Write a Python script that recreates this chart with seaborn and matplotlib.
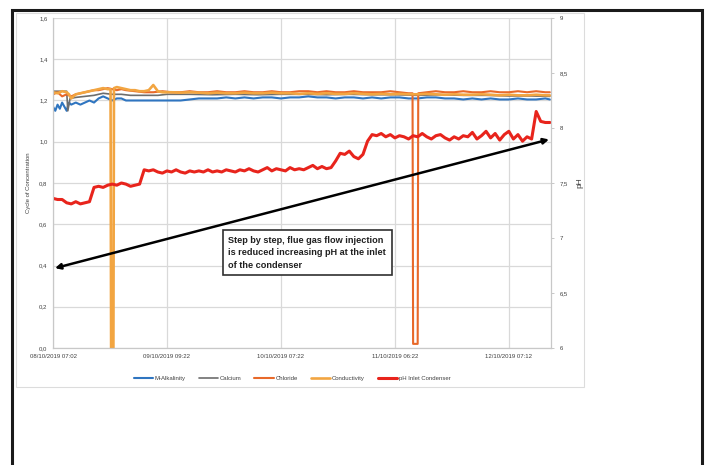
import matplotlib
matplotlib.use('Agg')
import matplotlib.pyplot as plt
import seaborn as sns
import pandas as pd
from matplotlib import font_manager
from matplotlib.patches import Rectangle

# ---------------- data ----------------
x_ticks = [0, 100, 200, 300, 400]
x_labels = ["08/10/2019 07:02", "09/10/2019 09:22", "10/10/2019 07:22",
            "11/10/2019 06:22", "12/10/2019 07:12"]
left_ticks = [0.0, 0.2, 0.4, 0.6, 0.8, 1.0, 1.2, 1.4, 1.6]
left_labels = ["0,0", "0,2", "0,4", "0,6", "0,8", "1,0", "1,2", "1,4", "1,6"]
right_ticks = [6, 6.5, 7, 7.5, 8, 8.5, 9]
right_labels = ["6", "6,5", "7", "7,5", "8", "8,5", "9"]

t_alk = [0, 2, 4, 6, 8, 10, 12, 14, 16, 20, 24, 28, 32, 36, 40, 44, 48, 52, 56, 60,
         64, 68, 72, 80, 88, 96, 104, 112, 120, 128, 136, 144, 152, 160, 168, 176,
         184, 192, 200, 208, 216, 224, 232, 240, 248, 256, 264, 272, 280, 288, 296,
         304, 312, 320, 328, 336, 344, 352, 360, 368, 376, 384, 392, 400, 408, 416,
         424, 432, 436]
alk = [1.17, 1.15, 1.18, 1.16, 1.19, 1.17, 1.15, 1.19, 1.18, 1.19, 1.18, 1.19, 1.20,
       1.19, 1.21, 1.22, 1.21, 1.20, 1.21, 1.21, 1.20, 1.20, 1.20, 1.20, 1.20, 1.20,
       1.20, 1.20, 1.205, 1.21, 1.21, 1.21, 1.215, 1.21, 1.215, 1.21, 1.215, 1.215,
       1.21, 1.215, 1.215, 1.22, 1.215, 1.215, 1.21, 1.215, 1.215, 1.21, 1.215, 1.21,
       1.215, 1.215, 1.21, 1.21, 1.215, 1.215, 1.21, 1.21, 1.205, 1.21, 1.205, 1.21,
       1.205, 1.205, 1.21, 1.205, 1.205, 1.21, 1.205]

t_cal = [0, 12, 13, 15, 20, 28, 36, 44, 52, 60, 68, 76, 84, 92, 100, 120, 140, 160,
         180, 200, 220, 240, 260, 280, 300, 320, 340, 360, 380, 400, 420, 436]
cal = [1.245, 1.245, 1.15, 1.21, 1.215, 1.22, 1.225, 1.235, 1.23, 1.23, 1.225, 1.225,
       1.225, 1.225, 1.23, 1.23, 1.228, 1.23, 1.228, 1.23, 1.23, 1.228, 1.23, 1.228,
       1.228, 1.225, 1.228, 1.225, 1.225, 1.222, 1.222, 1.22]

t_chl = [0, 4, 8, 12, 16, 20, 24, 28, 32, 36, 40, 44, 48, 52, 56, 60, 64, 72, 80, 88,
         96, 104, 112, 120, 128, 136, 144, 152, 160, 168, 176, 184, 192, 200, 208, 216,
         224, 232, 240, 248, 256, 264, 272, 280, 288, 296, 304, 312, 315.5, 316, 320,
         320.5, 328, 336, 344, 352, 360, 368, 376, 384, 392, 400, 408, 416, 424, 432,
         436]
chl = [1.23, 1.24, 1.22, 1.23, 1.22, 1.23, 1.235, 1.24, 1.245, 1.25, 1.25, 1.255, 1.26,
       1.255, 1.25, 1.255, 1.25, 1.245, 1.24, 1.24, 1.245, 1.24, 1.24, 1.245, 1.24, 1.24,
       1.245, 1.24, 1.24, 1.245, 1.24, 1.24, 1.245, 1.24, 1.24, 1.245, 1.245, 1.24,
       1.245, 1.24, 1.24, 1.245, 1.24, 1.24, 1.24, 1.245, 1.24, 1.235, 1.235, 0.02,
       0.02, 1.235, 1.24, 1.245, 1.24, 1.24, 1.245, 1.24, 1.24, 1.245, 1.24, 1.24,
       1.245, 1.24, 1.245, 1.24, 1.24]

t_cond = [0, 4, 8, 12, 14, 16, 20, 24, 28, 32, 36, 40, 44, 48, 50.5, 51, 53, 53.5, 56,
          60, 64, 68, 72, 76, 80, 84, 88, 92, 96, 104, 112, 120, 128, 136, 144, 152,
          160, 168, 176, 184, 192, 200, 208, 216, 224, 232, 240, 248, 256, 264, 272,
          280, 288, 296, 304, 312, 320, 328, 336, 344, 352, 360, 368, 376, 384, 392,
          400, 408, 416, 424, 432, 436]
cond = [1.24, 1.235, 1.245, 1.24, 1.23, 1.21, 1.23, 1.235, 1.24, 1.245, 1.25, 1.255,
        1.26, 1.255, 1.255, 0.0, 0.0, 1.26, 1.265, 1.26, 1.255, 1.25, 1.25, 1.245,
        1.245, 1.25, 1.275, 1.245, 1.24, 1.24, 1.238, 1.24, 1.238, 1.235, 1.238, 1.235,
        1.235, 1.238, 1.235, 1.235, 1.238, 1.235, 1.235, 1.232, 1.235, 1.232, 1.235,
        1.232, 1.232, 1.235, 1.232, 1.23, 1.232, 1.23, 1.232, 1.23, 1.23, 1.232, 1.23,
        1.228, 1.23, 1.228, 1.228, 1.23, 1.228, 1.225, 1.228, 1.225, 1.225, 1.228,
        1.225, 1.225]

t_ph = list(range(0, 437, 4))
ph = [7.36, 7.35, 7.35, 7.32, 7.31, 7.33, 7.31, 7.32, 7.33,
      7.46, 7.47, 7.46, 7.48, 7.49, 7.48, 7.50, 7.49, 7.47, 7.48, 7.49,
      7.62, 7.61, 7.62, 7.60, 7.59, 7.61, 7.60, 7.62, 7.60, 7.59, 7.61, 7.60,
      7.61, 7.60, 7.62, 7.60, 7.61, 7.60, 7.62, 7.61, 7.60, 7.62, 7.61, 7.63,
      7.61, 7.60, 7.62, 7.64, 7.61, 7.63, 7.62, 7.61, 7.64, 7.62, 7.63, 7.62,
      7.64, 7.66, 7.63, 7.65, 7.63, 7.64, 7.70, 7.77, 7.76, 7.79, 7.74, 7.72,
      7.76, 7.88, 7.94, 7.93, 7.95, 7.92, 7.94, 7.91, 7.93, 7.92, 7.90, 7.93,
      7.92, 7.95, 7.92, 7.90, 7.93, 7.94, 7.91, 7.89, 7.92, 7.90, 7.93, 7.92,
      7.96, 7.90, 7.93, 7.97, 7.91, 7.95, 7.89, 7.94, 7.97, 7.90, 7.94, 7.88,
      7.92, 7.90, 8.15, 8.06, 8.05, 8.05]

names = ["M-Alkalinity", "Calcium", "Chloride", "Conductivity", "pH Inlet Condenser"]
colors = ["#2f75c0", "#6d6d6d", "#e8692a", "#f2a541", "#e8241c"]

note = ("Step by step, flue gas flow injection\n"
        "is reduced increasing pH at the inlet\n"
        "of the condenser")

# ---------------- style ----------------
avail = {f.name for f in font_manager.fontManager.ttflist}
narrow = 'Liberation Sans Narrow' if 'Liberation Sans Narrow' in avail else 'Liberation Sans'
sns.set_style('white')
plt.rcParams['font.family'] = [narrow, 'DejaVu Sans']

W, H = 705, 465
fig = plt.figure(figsize=(W / 100, H / 100), dpi=100)
ax = fig.add_axes([53 / W, 1 - 348 / H, (551 - 53) / W, 330 / H])
ax2 = ax.twinx()

sns.lineplot(x=t_alk, y=alk, ax=ax, color=colors[0], linewidth=1.5, label=names[0])
sns.lineplot(x=t_cal, y=cal, ax=ax, color=colors[1], linewidth=1.2, label=names[1])
sns.lineplot(x=t_chl, y=chl, ax=ax, color=colors[2], linewidth=1.5, label=names[2])
sns.lineplot(x=t_cond, y=cond, ax=ax, color=colors[3], linewidth=1.9, label=names[3])
sns.lineplot(x=t_ph, y=ph, ax=ax2, color=colors[4], linewidth=2.2, label=names[4])

ax.set_xlim(0, 437)
ax.set_ylim(0, 1.6)
ax2.set_ylim(6, 9)

ax.set_xticks(x_ticks)
ax.set_xticklabels(x_labels, fontsize=4.3, color='#404040')
ax.set_yticks(left_ticks)
ax.set_yticklabels(left_labels, fontsize=4.3, color='#404040')
ax2.set_yticks(right_ticks)
ax2.set_yticklabels(right_labels, fontsize=4.3, color='#404040')
ax.tick_params(axis='both', length=0, pad=4)
ax2.tick_params(axis='y', length=2, width=0.6, color='#bfbfbf', pad=4)

ax.grid(True, color='#d9d9d9', linewidth=0.9)
ax2.grid(False)
for a in (ax, ax2):
    for s in a.spines.values():
        s.set_color('#c8c8c8')
        s.set_linewidth(0.8)
    a.spines['top'].set_visible(False)

ax.set_xlabel('')
ax.set_ylabel('Cycle of Concentration', fontsize=4.3, color='#404040', labelpad=6)
ax2.set_ylabel('pH', fontsize=6, color='#404040', labelpad=6)

# legend
h1, l1 = ax.get_legend_handles_labels()
h2, l2 = ax2.get_legend_handles_labels()
ax.get_legend().remove()
ax2.get_legend().remove()
fig.legend(h1 + h2, l1 + l2, loc='center', bbox_to_anchor=(292 / W, 1 - 378 / H),
           ncol=5, frameon=False, fontsize=4.3, handlelength=3.2, columnspacing=2.2,
           handletextpad=0.3, labelcolor='#404040')

# arrow + note
ax2.annotate('', xy=(0.004, 0.242), xytext=(0.996, 0.632), xycoords='axes fraction',
             textcoords='axes fraction',
             arrowprops=dict(arrowstyle='<|-|>', color='black', lw=1.8,
                             mutation_scale=8, shrinkA=0, shrinkB=0), zorder=10)
ax2.text(0.352, 0.34, note, transform=ax.transAxes, ha='left', va='top',
         fontsize=6.6, fontweight='bold', color='#202020', linespacing=1.5,
         bbox=dict(boxstyle='square,pad=0.6', fc='white', ec='#303030', lw=1.2),
         zorder=11)

# chart area and outer frame
fig.add_artist(Rectangle((16 / W, 1 - 387 / H), (584 - 16) / W, (387 - 13) / H,
                         transform=fig.transFigure, fill=False, ec='#dcdcdc', lw=0.8))
fig.add_artist(Rectangle((12 / W, -0.1), (702 - 12) / W, 1 - 10 / H + 0.1,
                         transform=fig.transFigure, fill=False, ec='#1a1a1a', lw=2.2))

fig.savefig('out.png', dpi=100)
